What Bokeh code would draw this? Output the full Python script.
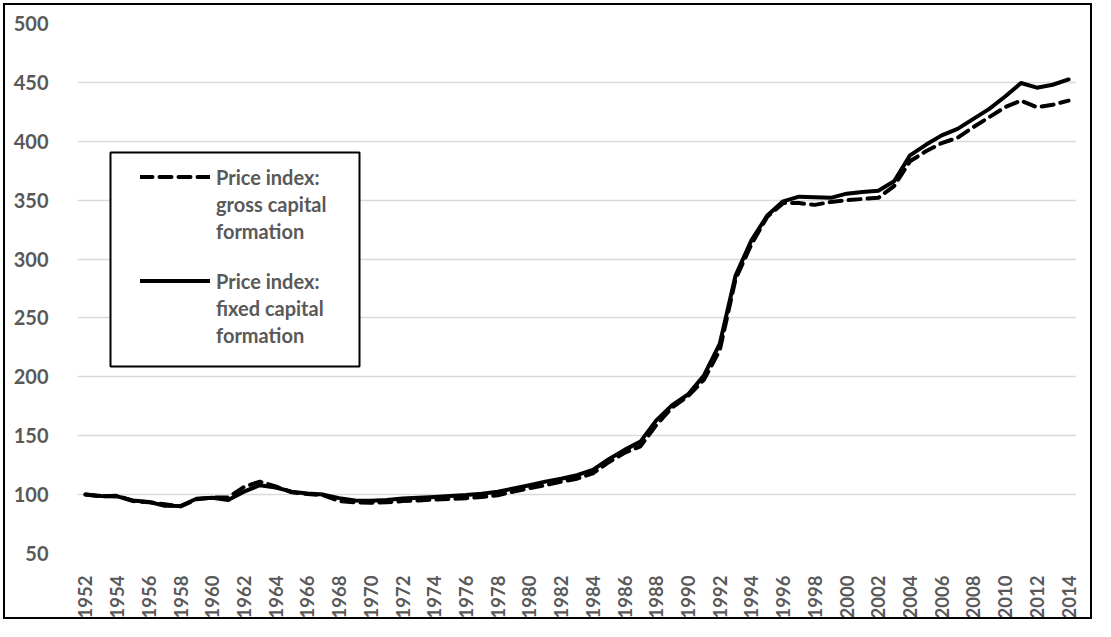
import math
from bokeh.plotting import figure
from bokeh.models import (Legend, LegendItem, FixedTicker, Range1d, BoxAnnotation,
                          InlineStyleSheet)
from bokeh.embed import file_html
from bokeh.resources import INLINE

years = list(range(1952, 2015))

gross_capital = [
    100, 98.5, 99, 94.5, 93.5, 91.8, 90, 96, 97.5, 97.5,
    106.5, 111, 107, 102, 100.5, 99.5, 94.5, 93.5, 93, 93.5,
    94.5, 95, 95.8, 96.3, 97, 98, 99.5, 102.5, 105.5, 108,
    111, 113.5, 118, 127.5, 135.5, 141, 159, 174, 183.5, 197.5,
    222.5, 283, 312.5, 336, 347.5, 347.5, 346, 348.5, 350, 351,
    352, 362, 383, 391.5, 398.5, 403, 412, 420.5, 429, 434.5,
    429, 431, 434.5,
]

fixed_capital = [
    100, 98.8, 98.5, 95, 93.8, 90.5, 90.3, 96.5, 97.3, 95.5,
    102.5, 108, 106, 102.5, 101, 100, 97, 95, 94.8, 95.5,
    96.8, 97.3, 98, 98.8, 99.6, 100.8, 102.5, 105.2, 108, 111,
    113.5, 116.5, 121, 130, 138, 145, 163, 176, 185, 201,
    228, 286, 316, 337, 349, 353, 352.5, 352, 355.5, 357,
    358, 366, 388, 397, 405, 410.5, 419, 427.5, 438, 449.5,
    445.5, 448, 452.5,
]

x_tick_years = years[::2]
y_ticks = [50, 100, 150, 200, 250, 300, 350, 400, 450, 500]

label_gross = ["Price index:", "gross capital", "formation"]
label_fixed = ["Price index:", "fixed capital", "formation"]

TEXT = "#595959"
FONT = "Lato"
W, H = 1095, 621

p = figure(
    width=W, height=H,
    output_backend="svg", toolbar_location=None,
    x_range=Range1d(1951.5, 2014.5), y_range=Range1d(50, 500),
    min_border_left=77, min_border_right=19, min_border_top=23, min_border_bottom=66,
)
p.outline_line_color = None
p.background_fill_color = "white"
p.border_fill_color = "white"
# outer chart border drawn over the canvas
p.stylesheets = [InlineStyleSheet(css=(
    ":host::after { content: ''; position: absolute; left: 3px; top: 3px; "
    "right: 3px; bottom: 2px; border: 2px solid #000; pointer-events: none; z-index: 100; }"
))]

r1 = p.line(years, gross_capital, line_color="black", line_width=4,
            line_dash="12 7", line_cap="round", line_join="round")
r2 = p.line(years, fixed_capital, line_color="black", line_width=4,
            line_cap="round", line_join="round")

p.xaxis.ticker = FixedTicker(ticks=x_tick_years)
p.yaxis.ticker = FixedTicker(ticks=y_ticks)
p.xaxis.major_label_orientation = math.pi / 2
for ax in (p.xaxis, p.yaxis):
    ax.axis_line_color = None
    ax.major_tick_line_color = None
    ax.minor_tick_line_color = None
    ax.major_label_text_font = FONT
    ax.major_label_text_font_style = "bold"
    ax.major_label_text_color = TEXT
p.yaxis.major_label_text_font_size = "20px"
p.xaxis.major_label_text_font_size = "18.5px"
p.yaxis.major_label_standoff = 23
p.xaxis.major_label_standoff = 16

p.xgrid.grid_line_color = None
p.ygrid.grid_line_color = "#d9d9d9"
p.ygrid.grid_line_width = 1.5

# legend box (canvas pixels, y measured from the top)
legend_box = BoxAnnotation(left=110, right=359, top=152, bottom=366,
                           left_units="canvas", right_units="canvas",
                           top_units="canvas", bottom_units="canvas",
                           fill_color="white", fill_alpha=1,
                           line_color="black", line_width=2, line_alpha=1)
p.add_layout(legend_box)


def make_legend(lines, renderer, loc):
    items = [LegendItem(label=lines[0], renderers=[renderer])]
    items += [LegendItem(label=t, renderers=[]) for t in lines[1:]]
    return Legend(
        items=items, location=loc,
        padding=0, spacing=0, margin=0,
        glyph_width=70, glyph_height=27, label_height=27, label_standoff=6,
        label_text_font=FONT, label_text_font_style="bold",
        label_text_font_size="20px", label_text_color=TEXT,
        border_line_color=None, background_fill_alpha=0,
    )


p.add_layout(make_legend(label_gross, r1, (63, 309)))
p.add_layout(make_legend(label_fixed, r2, (63, 205)))

open("out.html", "w").write(file_html(p, INLINE))
